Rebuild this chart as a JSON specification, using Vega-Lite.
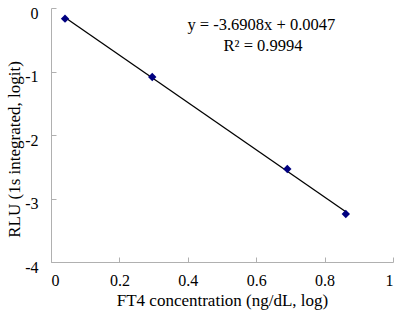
{
  "$schema": "https://vega.github.io/schema/vega-lite/v6.json",
  "width": 342,
  "height": 254,
  "autosize": {"type": "none"},
  "padding": {"left": 51, "top": 8, "right": 11, "bottom": 49},
  "background": "white",
  "config": {
    "view": {"stroke": null},
    "font": "Liberation Serif",
    "axis": {
      "grid": false,
      "domainColor": "#b0b0b0",
      "tickColor": "#b0b0b0",
      "labelFont": "Liberation Serif",
      "titleFont": "Liberation Serif",
      "labelFontSize": 16,
      "titleFontSize": 17,
      "labelColor": "black",
      "titleColor": "black",
      "titleFontWeight": "normal"
    }
  },
  "data": {
    "values": [
      {"x": 0.041, "y": -0.168},
      {"x": 0.296, "y": -1.087},
      {"x": 0.691, "y": -2.535},
      {"x": 0.862, "y": -3.244}
    ]
  },
  "layer": [
    {
      "transform": [{"regression": "y", "on": "x"}],
      "mark": {"type": "line", "color": "black", "strokeWidth": 1.3},
      "encoding": {
        "x": {"field": "x", "type": "quantitative"},
        "y": {"field": "y", "type": "quantitative"}
      }
    },
    {
      "mark": {"type": "point", "shape": "diamond", "filled": true, "color": "#000080", "size": 70, "opacity": 1},
      "encoding": {
        "x": {
          "field": "x", "type": "quantitative",
          "scale": {"domain": [0, 1], "nice": false, "zero": false},
          "axis": {
            "values": [0, 0.2, 0.4, 0.6, 0.8, 1],
            "labelExpr": "'' + datum.value",
            "tickSize": -5,
            "labelPadding": 15,
            "title": "FT4 concentration (ng/dL, log)",
            "titlePadding": 4
          }
        },
        "y": {
          "field": "y", "type": "quantitative",
          "scale": {"domain": [-4, 0], "nice": false, "zero": false},
          "axis": {
            "values": [-4, -3, -2, -1, 0],
            "labelExpr": "'' + datum.value",
            "tickSize": -5,
            "labelPadding": 18,
            "labelOffset": 5,
            "title": "RLU (1s integrated, logit)",
            "titleX": -37,
            "titleY": 141,
            "titleBaseline": "middle",
            "titleAngle": -90
          }
        }
      }
    },
    {
      "data": {"values": [
        {"tx": 0.615, "ty": -0.27, "label": "y = -3.6908x + 0.0047"},
        {"tx": 0.62, "ty": -0.6, "label": "R² = 0.9994"}
      ]},
      "mark": {"type": "text", "font": "Liberation Serif", "fontSize": 16.5, "color": "black", "align": "center", "baseline": "middle"},
      "encoding": {
        "x": {"field": "tx", "type": "quantitative"},
        "y": {"field": "ty", "type": "quantitative"},
        "text": {"field": "label"}
      }
    }
  ]
}
